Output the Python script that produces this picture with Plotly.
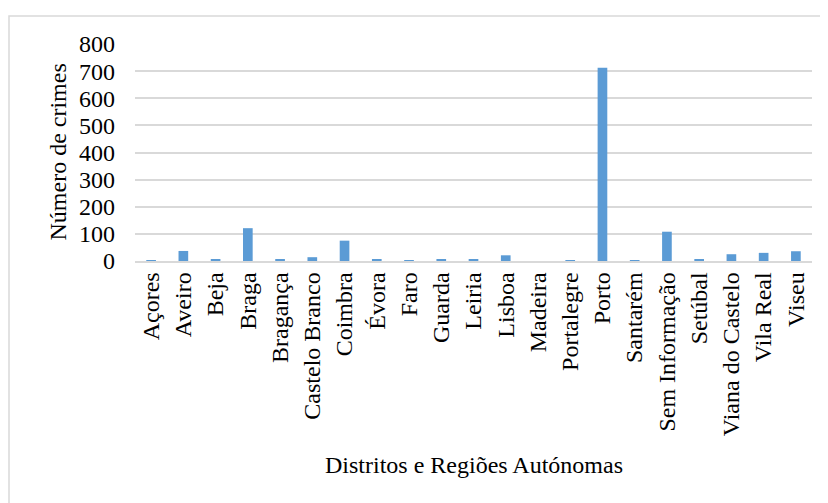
import plotly.graph_objects as go

categories = ["Açores", "Aveiro", "Beja", "Braga", "Bragança", "Castelo Branco", "Coimbra",
              "Évora", "Faro", "Guarda", "Leiria", "Lisboa", "Madeira", "Portalegre", "Porto",
              "Santarém", "Sem Informação", "Setúbal", "Viana do Castelo", "Vila Real", "Viseu"]
values = [1, 37, 6, 121, 5, 14, 75, 5, 2, 5, 5, 21, 0, 2, 712, 2, 108, 5, 25, 30, 36]
y_ticks = [0, 100, 200, 300, 400, 500, 600, 700, 800]

FONT = "Liberation Serif, Times New Roman, serif"
FS = 24

fig = go.Figure(go.Bar(x=categories, y=values, marker=dict(color="#5b9bd5", line=dict(width=0))))

# page body has an 8px margin, so figure coords = screen coords - 8
W, H = 820, 495
L, R, T, B = 127, 16, 36, 242
pw, ph = W - L - R, H - T - B

fig.update_layout(
    width=W, height=H,
    margin=dict(l=L, r=R, t=T, b=B, pad=0),
    paper_bgcolor="white", plot_bgcolor="white",
    bargap=0.7,
    showlegend=False,
    font=dict(family=FONT, size=FS, color="black"),
    xaxis=dict(
        tickangle=-90, showgrid=False, showline=True, linecolor="#d9d9d9", linewidth=1.5,
        ticks="", tickfont=dict(family=FONT, size=FS, color="black"),
    ),
    yaxis=dict(
        range=[0, 800], tickvals=y_ticks, showgrid=True, gridcolor="#d9d9d9", gridwidth=1.5,
        zeroline=False, showline=False, ticks="", ticklabelstandoff=19,
        tickfont=dict(family=FONT, size=FS, color="black"),
    ),
    annotations=[
        dict(text="Distritos e Regiões Autónomas", xref="paper", yref="paper",
             x=0.5, y=(H - B - 457) / ph, xanchor="center", yanchor="middle",
             showarrow=False, font=dict(family=FONT, size=FS, color="black")),
        dict(text="Número de crimes", xref="paper", yref="paper",
             x=(49 - L) / pw, y=0.5, xanchor="center", yanchor="middle", textangle=-90,
             showarrow=False, font=dict(family=FONT, size=FS, color="black")),
    ],
    shapes=[
        dict(type="rect", xref="paper", yref="paper",
             x0=(1 - L) / pw, x1=(W + 10 - L) / pw,
             y0=(H - B - (H + 10)) / ph, y1=(H - B - 8) / ph,
             line=dict(color="#d9d9d9", width=1.5), fillcolor="rgba(0,0,0,0)", layer="below"),
    ],
)

fig.write_html("out.html")
